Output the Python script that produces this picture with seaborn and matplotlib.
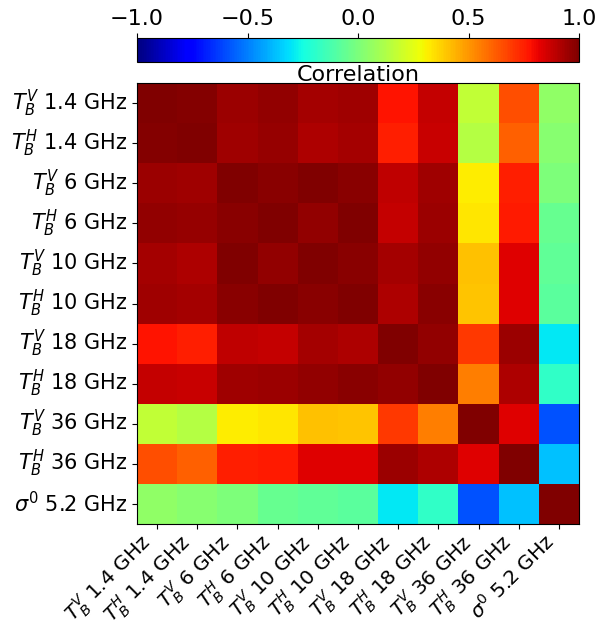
import numpy as np
import pandas as pd
import matplotlib
matplotlib.use("Agg")
import matplotlib.pyplot as plt
import seaborn as sns

# Channel labels
labels = [r"$T_B^V$ 1.4 GHz", r"$T_B^H$ 1.4 GHz",
          r"$T_B^V$ 6 GHz", r"$T_B^H$ 6 GHz",
          r"$T_B^V$ 10 GHz", r"$T_B^H$ 10 GHz",
          r"$T_B^V$ 18 GHz", r"$T_B^H$ 18 GHz",
          r"$T_B^V$ 36 GHz", r"$T_B^H$ 36 GHz",
          r"$\sigma^0$ 5.2 GHz"]

# Correlation matrix, one row per channel
row_tbv14 = [1.00, 0.99, 0.95, 0.965, 0.937, 0.944, 0.778, 0.875, 0.167, 0.651, 0.05]
row_tbh14 = [0.99, 1.00, 0.944, 0.957, 0.916, 0.93, 0.752, 0.868, 0.14, 0.617, 0.03]
row_tbv6 = [0.95, 0.944, 1.00, 0.978, 0.995, 0.978, 0.889, 0.944, 0.32, 0.752, 0.0]
row_tbh6 = [0.965, 0.957, 0.978, 1.00, 0.965, 0.995, 0.88, 0.95, 0.33, 0.765, -0.05]
row_tbv10 = [0.937, 0.916, 0.995, 0.965, 1.00, 0.98, 0.93, 0.965, 0.413, 0.83, -0.067]
row_tbh10 = [0.944, 0.93, 0.978, 0.995, 0.98, 1.00, 0.916, 0.978, 0.40, 0.834, -0.08]
row_tbv18 = [0.778, 0.752, 0.889, 0.88, 0.93, 0.916, 1.00, 0.965, 0.70, 0.95, -0.295]
row_tbh18 = [0.875, 0.868, 0.944, 0.95, 0.965, 0.978, 0.965, 1.00, 0.55, 0.916, -0.183]
row_tbv36 = [0.167, 0.14, 0.32, 0.33, 0.413, 0.40, 0.70, 0.55, 1.00, 0.834, -0.59]
row_tbh36 = [0.651, 0.617, 0.752, 0.765, 0.83, 0.834, 0.95, 0.916, 0.834, 1.00, -0.374]
row_sig0 = [0.05, 0.03, 0.0, -0.05, -0.067, -0.08, -0.295, -0.183, -0.59, -0.374, 1.00]

corr = pd.DataFrame([row_tbv14, row_tbh14, row_tbv6, row_tbh6, row_tbv10,
                     row_tbh10, row_tbv18, row_tbh18, row_tbv36, row_tbh36,
                     row_sig0], index=labels, columns=labels)

fig = plt.figure(figsize=(5.99, 6.28), dpi=100)
ax = fig.add_axes([0.2287, 0.1656, 0.738, 0.702])
cax = fig.add_axes([0.2287, 0.901, 0.738, 0.038])

sns.heatmap(corr, ax=ax, cbar_ax=cax, cmap="jet", vmin=-1, vmax=1,
            cbar_kws={"orientation": "horizontal"})

# heatmap frame
for sp in ax.spines.values():
    sp.set_visible(True)
    sp.set_linewidth(0.8)
ax.set_yticklabels(labels, rotation=0, fontsize=15)
ax.set_xticklabels(labels, rotation=45, ha="right", fontsize=14.5)
ax.tick_params(axis="x", pad=1)

# colorbar on top
cb = ax.collections[0].colorbar
cb.outline.set_linewidth(0.8)
cb.set_ticks([-1.0, -0.5, 0.0, 0.5, 1.0])
cax.xaxis.set_ticks_position("top")
cax.xaxis.set_label_position("bottom")
cax.tick_params(labelsize=16)
cax.set_xlabel("Correlation", fontsize=16, labelpad=2)

fig.savefig("out.png", dpi=100)
